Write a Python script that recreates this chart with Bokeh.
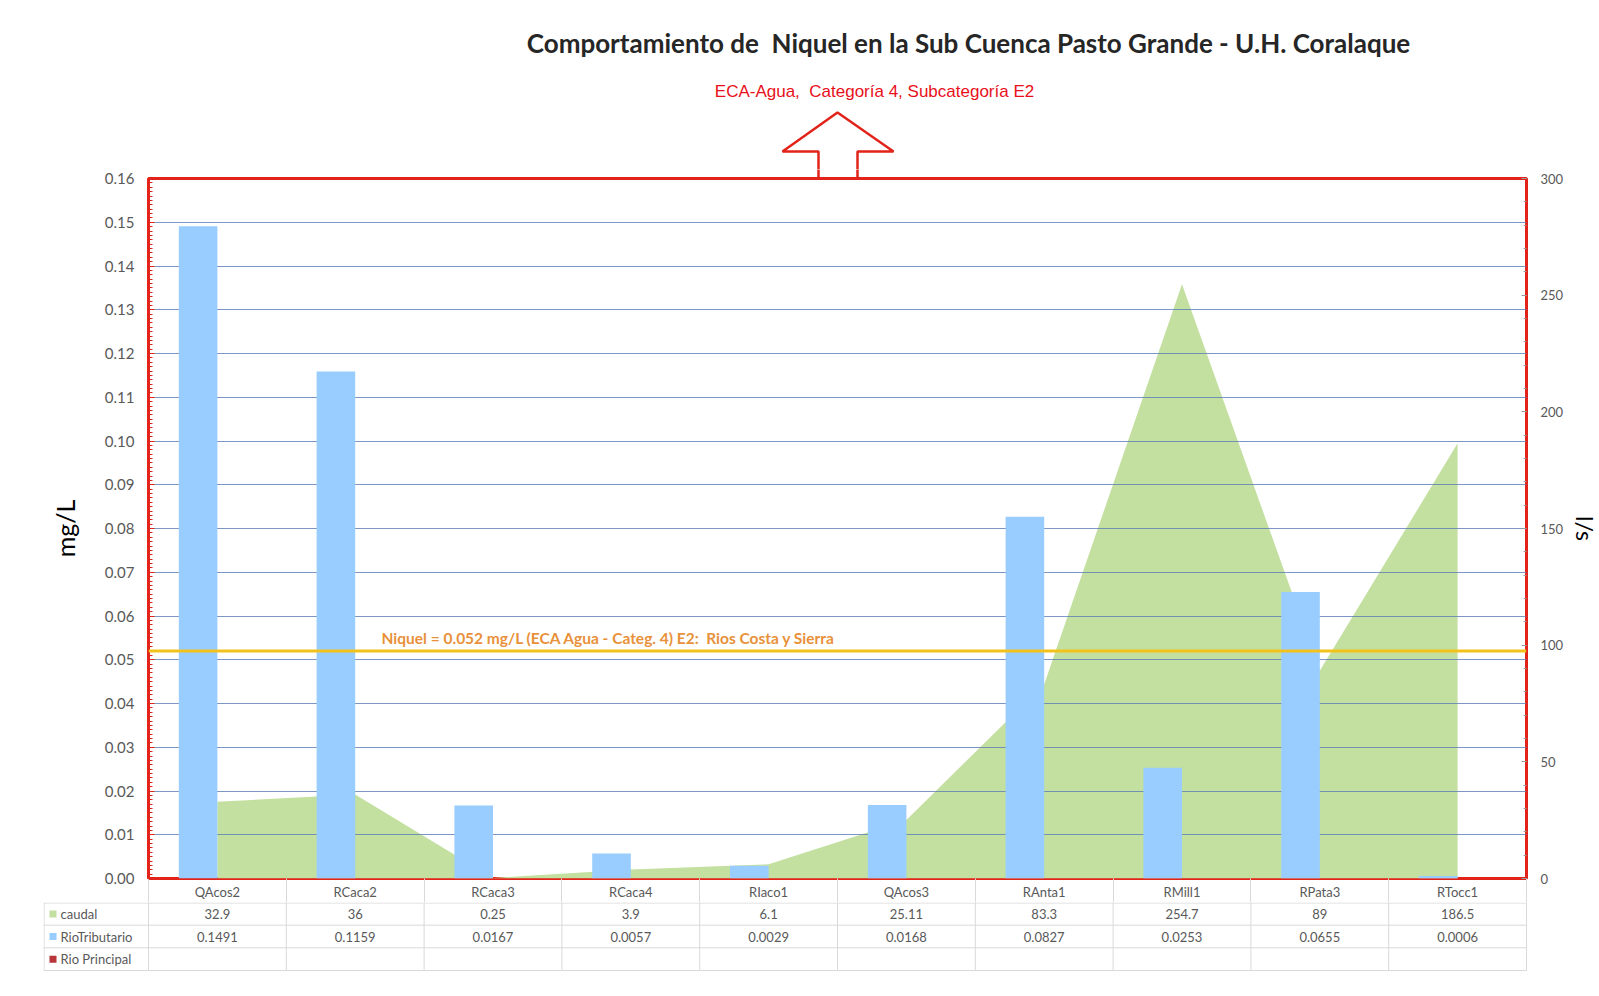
from bokeh.plotting import figure
from bokeh.models import (Range1d, LinearAxis, FixedTicker, SingleIntervalTicker,
                          NumeralTickFormatter, Span, Label, ColumnDataSource)
from bokeh.layouts import column, row
from bokeh.transform import dodge
from bokeh.core.properties import value
from bokeh.embed import file_html
from bokeh.resources import INLINE

# ---------------- data ----------------
categories = ["QAcos2", "RCaca2", "RCaca3", "RCaca4", "RIaco1",
              "QAcos3", "RAnta1", "RMill1", "RPata3", "RTocc1"]
caudal = [32.9, 36, 0.25, 3.9, 6.1, 25.11, 83.3, 254.7, 89, 186.5]          # l/s
rio_tributario = [0.1491, 0.1159, 0.0167, 0.0057, 0.0029,
                  0.0168, 0.0827, 0.0253, 0.0655, 0.0006]                    # mg/L
rio_principal = [None] * 10
eca_niquel = 0.052
series_names = ["caudal", "RioTributario", "Rio Principal"]
title_text = "Comportamiento de\u00a0 Niquel en la Sub Cuenca Pasto Grande - U.H. Coralaque"
subtitle_text = "ECA-Agua,\u00a0 Categoría 4, Subcategoría E2"
eca_text = f"Niquel = {eca_niquel} mg/L (ECA Agua - Categ. 4) E2:\u00a0 Rios Costa y Sierra"

# ---------------- style / geometry (page pixels) ----------------
W = 1591
FL, FT, FR, FB = 148, 178, 1526, 878
TOP_H = 169
TB_T, TB_B = 902, 972
RED = "#E2231A"
GREEN = "#C4E0A1"
BLUE = "#99CCFF"
DARKRED = "#B8353A"
GRID = "#5B7DB5"
GOLD = "#F2C21A"
ORANGE = "#E8913A"
LINE = "#D9D9D9"
FN = "Lato"
FONT = value(FN)
TXT = "#595959"
YMAX = 0.16
n = len(categories)
centers = [i + 0.5 for i in range(n)]


def xd(px):
    return (px - FL) / (FR - FL) * n


def common(fig):
    fig.outline_line_color = None
    for g in fig.grid:
        g.visible = False


# ---------------- top: title + arrow ----------------
top = figure(width=W, height=TOP_H, x_range=Range1d(xd(0), xd(W)), y_range=Range1d(TOP_H, 0),
             toolbar_location=None, output_backend="svg", min_border=0,
             min_border_left=0, min_border_right=0, min_border_top=0, min_border_bottom=0,
             x_axis_location=None, y_axis_location=None)
common(top)
top.text(x=[xd(968)], y=[42], text=[title_text], text_font=FONT, text_font_size="26px",
         text_font_style="bold", text_color="#262626", text_align="center", text_baseline="middle")
top.text(x=[xd(874)], y=[91], text=[subtitle_text], text_font=value("Liberation Sans"),
         text_font_size="17px", text_color="#E8101A", text_align="center", text_baseline="middle")
arr_px = [(818, TOP_H + 2), (818, 151), (782, 151), (837, 112), (893, 151), (857, 151), (857, TOP_H + 2)]
ax = [xd(a) for a, _ in arr_px]
ay = [b for _, b in arr_px]
top.patch(ax, ay, fill_color="white", line_color=None)
top.line(ax, ay, line_color=RED, line_width=2.5)

# ---------------- main chart ----------------
p = figure(frame_width=FR - FL, frame_height=FB - FT, x_range=Range1d(0, n),
           y_range=Range1d(0, YMAX), toolbar_location=None, output_backend="svg",
           min_border_left=FL, min_border_right=W - FR, min_border_top=FT - TOP_H,
           min_border_bottom=TB_T - FB, x_axis_location=None, y_axis_location=None)
p.extra_y_ranges = {"q": Range1d(0, 300)}
common(p)
p.outline_line_color = RED
p.outline_line_width = 3

yl = LinearAxis(ticker=SingleIntervalTicker(interval=0.01, num_minor_ticks=10),
                formatter=NumeralTickFormatter(format="0.00"),
                axis_label="mg/L", axis_label_text_font=FN, axis_label_text_font_size="25px",
                axis_label_text_font_style="normal", axis_label_text_color="#000000",
                axis_label_standoff=22,
                major_label_text_font=FN, major_label_text_font_size="15px",
                major_label_text_color=TXT, major_label_standoff=14,
                axis_line_color=None,
                major_tick_in=6, major_tick_out=0, major_tick_line_color=RED,
                minor_tick_in=4, minor_tick_out=0, minor_tick_line_color=RED)
p.add_layout(yl, "left")

yr = LinearAxis(y_range_name="q", ticker=SingleIntervalTicker(interval=50, num_minor_ticks=5),
                axis_label="l/s", axis_label_text_font=FN, axis_label_text_font_size="23px",
                axis_label_text_font_style="normal", axis_label_text_color="#000000",
                axis_label_standoff=5,
                major_label_text_font=FN, major_label_text_font_size="13px",
                major_label_text_color=TXT, major_label_standoff=14,
                axis_line_color=None,
                major_tick_in=5, major_tick_out=0, major_tick_line_color="#9A9A9A",
                minor_tick_in=3, minor_tick_out=0, minor_tick_line_color="#9A9A9A")
p.add_layout(yr, "right")

cat_row = TB_T - FB
xb = LinearAxis(ticker=FixedTicker(ticks=centers, minor_ticks=list(range(n + 1))),
                major_label_overrides={c: cat for c, cat in zip(centers, categories)},
                major_label_text_font=FN, major_label_text_font_size="13px",
                major_label_text_color=TXT, major_label_standoff=5 - cat_row,
                axis_line_color=None,
                major_tick_in=0, major_tick_out=0,
                minor_tick_in=0, minor_tick_out=cat_row, minor_tick_line_color=LINE)
p.add_layout(xb, "below")

# arrow shaft continuation above the frame (tick marks only, labels not drawn)
xa = LinearAxis(ticker=FixedTicker(ticks=[xd(818), xd(857)], minor_ticks=[]),
                major_label_text_font_size="1px", major_label_text_color=None,
                major_label_standoff=0, axis_line_color=None,
                major_tick_in=0, major_tick_out=FT - TOP_H, major_tick_line_color=RED,
                major_tick_line_width=2.5, minor_tick_in=0, minor_tick_out=0)
p.add_layout(xa, "above")

src = ColumnDataSource(dict(x=centers, cat=categories, caudal=caudal, rt=rio_tributario))
p.varea(x="x", y1=0, y2="caudal", source=src, y_range_name="q", fill_color=GREEN)
grid_levels = [round(0.01 * k, 2) for k in range(1, 16)]
p.hspan(y=grid_levels, line_color=GRID, line_alpha=0.8, line_width=1)
p.vbar(x=dodge("x", -0.14), top="rt", width=0.28, source=src,
       fill_color=BLUE, line_color=None)

p.add_layout(Span(location=eca_niquel, dimension="width", line_color=GOLD, line_width=3))
p.add_layout(Label(x=xd(381), y=eca_niquel, y_offset=13, text=eca_text,
                   text_font=FN, text_font_size="15.5px", text_font_style="bold",
                   text_color=ORANGE, text_baseline="alphabetic"))

# ---------------- data table ----------------
tl = xd(43)
tb = figure(width=W, height=TB_B - TB_T, x_range=Range1d(tl, xd(W - 65 + 1)),
            y_range=Range1d(TB_B, TB_T), toolbar_location=None, output_backend="svg",
            min_border_left=43, min_border_right=64, min_border_top=0, min_border_bottom=0,
            x_axis_location=None, y_axis_location=None)
common(tb)
row_px = [TB_T + 0.5, 924.7, 947.3, 970]
rows = len(series_names)
tb.segment(x0=[tl] * len(row_px), y0=row_px, x1=[n] * len(row_px), y1=row_px,
           line_color=LINE, line_width=1)
vx = [tl + 0.004] + list(range(n + 1))
tb.segment(x0=vx, y0=[TB_T] * len(vx), x1=vx, y1=[row_px[-1]] * len(vx),
           line_color=LINE, line_width=1)
cy = [(row_px[r] + row_px[r + 1]) / 2 for r in range(rows)]
tb.scatter(x=[xd(52.5)] * rows, y=cy, marker="square", size=7,
           fill_color=[GREEN, BLUE, DARKRED], line_color=None)
tb.text(x=[xd(60)] * rows, y=cy, text=series_names, text_font=FONT, text_font_size="13px",
        text_color=TXT, text_align="left", text_baseline="middle")
table_rows = [[f"{v:g}" for v in caudal],
              [f"{v:.4f}" for v in rio_tributario],
              [None if v is None else f"{v:.4f}" for v in rio_principal]]
for r in range(rows):
    cells = [(c, t) for c, t in zip(centers, table_rows[r]) if t is not None]
    if cells:
        tb.text(x=[c for c, _ in cells], y=[cy[r]] * len(cells), text=[t for _, t in cells],
                text_font=FONT, text_font_size="13px", text_color=TXT,
                text_align="center", text_baseline="middle")

layout = column(row(top), row(p), row(tb), spacing=0)
open("out.html", "w").write(file_html(layout, INLINE))
